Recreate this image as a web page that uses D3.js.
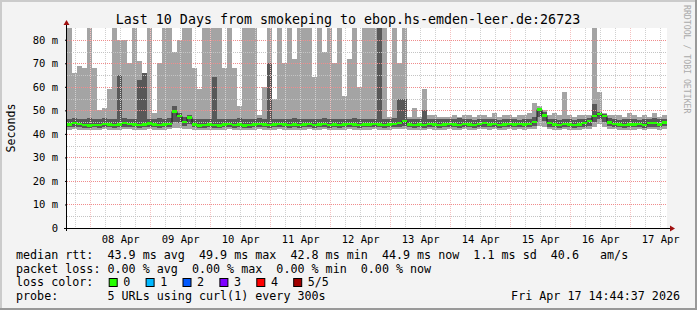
<!DOCTYPE html>
<html>
<head>
<meta charset="utf-8">
<script src="https://cdn.jsdelivr.net/npm/d3@7"></script>
<style>
  body { margin: 0; background: #f3f3f3; }
  text { font-family: "DejaVu Sans Mono", monospace; white-space: pre; }
</style>
</head>
<body>
<svg id="chart" width="697" height="310"></svg>
<script>
// 10 days, 2-hour steps (120 bins), values in ms
const maxPing = [
  99,66,69,68,99,68,50,51,59,99, 80,80,70,99,71,66,99,49,70,99,
  99,75,80,99,99,68,59,99,99,99, 99,68,99,68,52,99,99,99,48,60,
  99,55,99,70,99,72,99,99,99,64, 99,75,99,70,99,56,72,99,60,99,
  99,99,48,99,47,99,70,99,47,51, 47,59,48,48,47,47,47,48,47,48,
  48,47,48,48,47,49,47,48,48,47, 48,48,49,53,52,50,48,49,48,58,
  48,47,48,48,48,99,58,49,48,48, 48,47,49,48,47,48,47,49,47,48
];
const p4Ping = [
  46.5,46.8,46.2,46.4,46.6,46.2,46.4,46.8,46.5,46.2, 65,46.6,46.4,46.2,63,66,46.5,46.2,46.6,46.4,
  46.8,52,49,47,48,46.4,46.2,46.5,46.4,64, 46.2,46.5,46.4,46.2,46.6,46.4,46.2,46.5,46.8,46.4,
  70,46.4,46.2,46.5,46.4,46.6,46.2,46.4,46.5,46.2, 46.4,46.6,46.2,46.4,46.5,46.2,46.4,46.6,46.2,46.4,
  46.5,46.4,99,46.2,46.4,46.6,55,55,46.2,46.4, 46.2,50,46.4,46.2,46.5,46.4,46.2,46.4,46.6,46.2,
  46.2,46.0,46.4,46.5,46.2,46.4,46.0,46.2,46.4,46.2, 46.0,46.4,46.2,47,51,49.5,46.4,46.2,46.0,46.5,
  46.2,46.0,46.2,46.5,46.8,52.6,49.5,48.5,46.6,46.2, 46.0,46.2,46.4,46.2,46.0,46.2,46.4,46.6,46.2,46.5
];
const medPing = [
  44.0,44.6,44.2,43.8,43.6,43.8,43.9,44.2,44.0,43.8, 44.0,44.5,44.2,44.0,43.9,44.0,44.4,44.0,43.8,44.0,
  44.2,49.5,47.5,45.0,47.0,44.0,43.6,43.8,44.0,43.8, 43.6,44.0,44.2,43.8,44.0,43.6,43.8,44.0,44.3,44.0,
  43.8,44.0,44.2,44.0,43.8,44.0,43.8,44.0,44.2,43.9, 44.0,44.2,43.8,44.0,43.8,44.0,44.2,44.0,43.8,44.0,
  44.0,44.2,44.0,43.8,44.0,44.2,44.5,45.5,44.0,43.8, 44.0,43.8,44.2,44.0,43.8,44.0,44.2,44.0,43.8,44.2,
  44.0,43.8,44.2,44.5,44.0,44.2,43.8,44.0,44.3,44.0, 44.2,44.0,44.2,45.0,50.3,47.8,44.5,44.0,43.8,44.2,
  44.0,43.8,44.0,44.5,45.5,47.6,48.5,47.5,44.8,44.2, 44.0,43.8,44.0,44.0,44.2,43.8,44.5,44.6,44.0,44.8
];
const p2Ping = [
  42.8,43.0,42.8,42.6,42.6,42.8,42.7,42.9,42.8,42.6, 42.8,43.0,42.9,42.8,42.7,42.8,43.0,42.8,42.6,42.8,
  42.9,45.0,44.5,43.2,44.0,42.8,42.5,42.6,42.8,42.6, 42.5,42.8,42.9,42.6,42.8,42.5,42.6,42.8,43.0,42.8,
  42.6,42.8,42.9,42.8,42.6,42.8,42.6,42.8,42.9,42.7, 42.8,42.9,42.6,42.8,42.6,42.8,42.9,42.8,42.6,42.8,
  42.8,42.9,42.8,42.6,42.8,42.9,43.0,43.5,42.8,42.6, 42.8,42.6,42.9,42.8,42.6,42.8,42.9,42.8,42.6,42.9,
  42.8,42.6,42.9,43.0,42.8,42.9,42.6,42.8,43.0,42.8, 42.9,42.8,42.9,43.5,47.0,45.5,43.0,42.8,42.6,42.9,
  42.8,42.6,42.8,43.0,43.5,45.0,46.5,45.0,43.2,42.9, 42.8,42.6,42.8,42.8,42.9,42.6,43.0,43.0,42.8,43.2
];
const minPing = [
  41.8,42.0,41.8,41.6,41.6,41.8,41.7,41.9,41.8,41.6, 41.8,42.0,41.9,41.8,41.7,41.8,42.0,41.8,41.6,41.8,
  41.9,42.5,42.5,42.0,42.2,41.8,41.5,41.6,41.8,41.6, 41.5,41.8,41.9,41.6,41.8,41.5,41.6,41.8,42.0,41.8,
  41.6,41.8,41.9,41.8,41.6,41.8,41.6,41.8,41.9,41.7, 41.8,41.9,41.6,41.8,41.6,41.8,41.9,41.8,41.6,41.8,
  41.8,41.9,41.8,41.6,41.8,41.9,42.0,42.2,41.8,41.6, 41.8,41.6,41.9,41.8,41.6,41.8,41.9,41.8,41.6,41.9,
  41.8,41.6,41.9,42.0,41.8,41.9,41.6,41.8,42.0,41.8, 41.9,41.8,41.9,42.2,43.5,43.0,42.0,41.8,41.6,41.9,
  41.8,41.6,41.8,42.0,42.2,43.0,44.0,43.0,42.2,41.9, 41.8,41.6,41.8,41.8,41.9,41.6,42.0,42.0,41.8,42.2
];

const yTicks = [0,10,20,30,40,50,60,70,80];
const lossLabels = ["0","1","2","3","4","5/5"];
const lossColors = ["#26ff00","#00b8ff","#0059ff","#7e00ff","#ff0000","#a00000"];
const legendLines = [
  "median rtt:  43.9 ms avg  49.9 ms max  42.8 ms min  44.9 ms now  1.1 ms sd  40.6   am/s",
  "packet loss: 0.00 % avg  0.00 % max  0.00 % min  0.00 % now",
  "loss color:",
  "probe:       5 URLs using curl(1) every 300s"
];
const stampText = "Fri Apr 17 14:44:37 2026";

const W = 697, H = 310;
const margin = { left: 67, top: 28, width: 600, height: 200 };
const startTime = Date.UTC(2026,3,7,14,44,37);
const endTime = Date.UTC(2026,3,17,14,44,37);
const stepMs = 2*3600*1000;

const svg = d3.select("#chart");

// background + shading border
svg.append("rect").attr("width", W).attr("height", H).attr("fill", "#f3f3f3");
svg.append("rect").attr("x",0).attr("y",0).attr("width",W).attr("height",2).attr("fill","#cbcbcb");
svg.append("rect").attr("x",0).attr("y",0).attr("width",2).attr("height",H).attr("fill","#cbcbcb");
svg.append("rect").attr("x",0).attr("y",H-2).attr("width",W).attr("height",2).attr("fill","#999");
svg.append("rect").attr("x",W-2).attr("y",0).attr("width",2).attr("height",H).attr("fill","#999");

const x = d3.scaleUtc()
  .domain([new Date(startTime), new Date(endTime)])
  .range([margin.left, margin.left + margin.width]);
const y = d3.scaleLinear()
  .domain([0, 85])
  .range([margin.top + margin.height, margin.top]);

svg.append("rect")
  .attr("x", margin.left).attr("y", margin.top)
  .attr("width", margin.width).attr("height", margin.height)
  .attr("fill", "#fff");

const rows = maxPing.map((d,i) => ({
  t0: new Date(startTime + i*stepMs),
  t1: new Date(startTime + (i+1)*stepMs),
  mx: Math.min(d, 85), p4: Math.min(p4Ping[i], 85),
  med: medPing[i], p2: p2Ping[i], mn: minPing[i]
}));

// smoke
const smoke = svg.append("g").attr("shape-rendering","crispEdges");
smoke.selectAll(".outer").data(rows).enter().append("rect")
  .attr("x", d => x(d.t0)).attr("width", d => x(d.t1) - x(d.t0))
  .attr("y", d => y(d.mx)).attr("height", d => y(d.mn) - y(d.mx))
  .attr("fill", "#a4a4a4");
smoke.selectAll(".inner").data(rows).enter().append("rect")
  .attr("x", d => x(d.t0)).attr("width", d => x(d.t1) - x(d.t0))
  .attr("y", d => y(d.p4)).attr("height", d => y(d.p2) - y(d.p4))
  .attr("fill", "#585858");

// grid (dotted, drawn over the smoke)
const grid = svg.append("g").attr("shape-rendering","crispEdges");
const minorHours = d3.utcHour.every(6).range(new Date(startTime), new Date(endTime))
  .filter(d => d.getUTCHours() !== 0);
const days = d3.utcDay.range(new Date(startTime), new Date(endTime));

function vLines(data, color){
  grid.selectAll(null).data(data).enter().append("line")
    .attr("x1", d => Math.round(x(d)) + 0.5).attr("x2", d => Math.round(x(d)) + 0.5)
    .attr("y1", margin.top).attr("y2", margin.top + margin.height)
    .attr("stroke", color).attr("stroke-dasharray","1,1");
}
function hLines(data, color){
  grid.selectAll(null).data(data).enter().append("line")
    .attr("x1", margin.left).attr("x2", margin.left + margin.width)
    .attr("y1", d => Math.round(y(d)) + 0.5).attr("y2", d => Math.round(y(d)) + 0.5)
    .attr("stroke", color).attr("stroke-dasharray","1,1");
}
vLines(minorHours, "#d0d0d0");
hLines(d3.range(5, 85, 10), "#c4c4c4");
vLines(days, "#f5c0c0");
hLines(yTicks.slice(1), "#f08c8c");

// median: dark step line + green loss band
const medLine = d3.line()
  .x(d => x(d.t0)).y(d => y(d.med))
  .curve(d3.curveStepAfter);
const medPts = rows.concat([{ t0: new Date(endTime), med: rows[rows.length-1].med }]);
svg.append("path").datum(medPts)
  .attr("d", medLine).attr("fill","none")
  .attr("stroke","#1a1a1a").attr("stroke-width",1);
svg.append("g").attr("shape-rendering","crispEdges")
  .selectAll("rect").data(rows).enter().append("rect")
  .attr("x", d => x(d.t0)).attr("width", d => x(d.t1) - x(d.t0))
  .attr("y", d => y(d.med) - 1.2).attr("height", 2.4)
  .attr("fill", lossColors[0]);

// axes
const axisG = svg.append("g").attr("shape-rendering","crispEdges");
axisG.append("line")
  .attr("x1", margin.left - 3).attr("x2", margin.left + margin.width + 3)
  .attr("y1", margin.top + margin.height + 0.5).attr("y2", margin.top + margin.height + 0.5)
  .attr("stroke", "#000");
axisG.append("line")
  .attr("x1", margin.left - 0.5).attr("x2", margin.left - 0.5)
  .attr("y1", margin.top + margin.height + 3).attr("y2", margin.top - 3)
  .attr("stroke", "#000");
svg.append("path")
  .attr("d", `M${margin.left+margin.width+3},${margin.top+margin.height-2.5} l5,3 l-5,3 z`)
  .attr("fill", "#a01010");
svg.append("path")
  .attr("d", `M${margin.left-3.5},${margin.top-3} l3,-5 l3,5 z`)
  .attr("fill", "#a01010");

const yAxis = svg.append("g")
  .attr("transform", `translate(${margin.left},0)`)
  .call(d3.axisLeft(y).tickValues(yTicks).tickSize(2).tickPadding(7)
    .tickFormat(d => d === 0 ? "0" : d + " m"));
yAxis.select(".domain").remove();
yAxis.selectAll("text").attr("font-size", "10.5px").attr("fill", "#000")
  .style("font-family", "DejaVu Sans Mono");

const labelDays = days.map(d => new Date(+d + 12*3600*1000)).filter(d => +d < endTime);
const xAxis = svg.append("g")
  .attr("transform", `translate(0,${margin.top + margin.height})`)
  .call(d3.axisBottom(x).tickValues(labelDays).tickSize(0).tickPadding(8)
    .tickFormat(d3.utcFormat("%d %b")));
xAxis.select(".domain").remove();
xAxis.selectAll("text").attr("font-size", "10.5px").attr("fill", "#000")
  .style("font-family", "DejaVu Sans Mono");

// title, y label, watermark
svg.append("text").attr("x", 348).attr("y", 23.5).attr("text-anchor","middle")
  .attr("font-size","13.3px").text("Last 10 Days from smokeping to ebop.hs-emden-leer.de:26723");
svg.append("text").attr("transform","translate(15,128) rotate(-90)")
  .attr("text-anchor","middle").attr("font-size","11.6px").text("Seconds");
svg.append("text").attr("transform","translate(684,5) rotate(90)")
  .attr("font-size","8.2px").attr("fill","#aaa").text("RRDTOOL / TOBI OETIKER");

// legend
const lg = svg.append("g").attr("font-size","11.7px");
const lineY = [258.5, 272.5, 286.3, 300.3];
legendLines.forEach((t,i) => lg.append("text").attr("x", 16).attr("y", lineY[i]).text(t));
lossLabels.forEach((t,i) => {
  const bx = 108.7 + i*36.9;
  lg.append("rect").attr("x", bx + 0.5).attr("y", 278.5).attr("width", 8).attr("height", 8)
    .attr("fill", lossColors[i]).attr("stroke","#000").attr("stroke-width",1);
  lg.append("text").attr("x", bx + 14.6).attr("y", lineY[2]).text(t);
});
lg.append("text").attr("x", 680).attr("y", lineY[3]).attr("text-anchor","end").text(stampText);
</script>
</body>
</html>
